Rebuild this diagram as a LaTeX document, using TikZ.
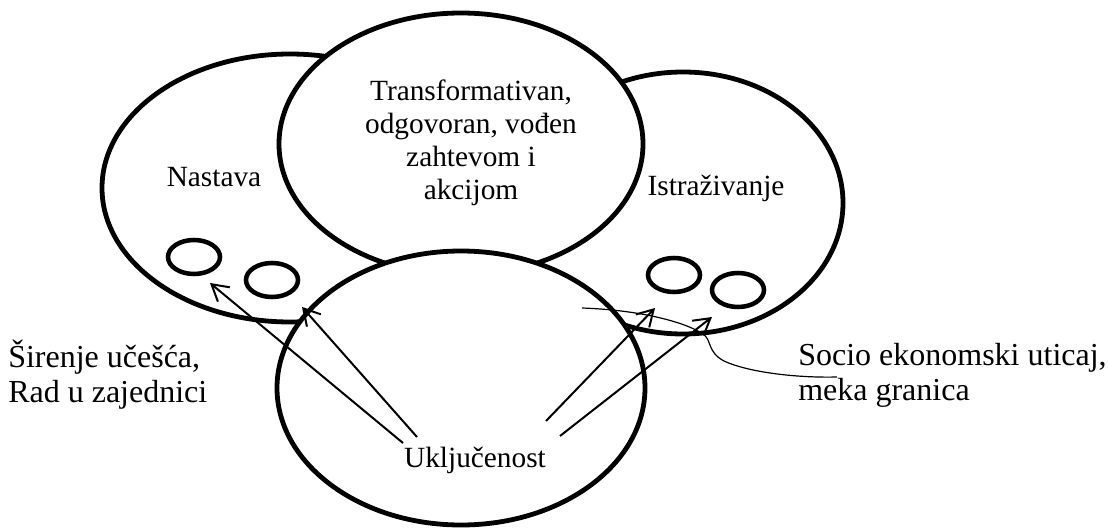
\documentclass[tikz,border=0pt]{standalone}
\usepackage{fontspec}
\setmainfont{Liberation Serif}
\usetikzlibrary{arrows.meta}

\begin{document}
\begin{tikzpicture}[x=0.75pt,y=-0.75pt,
    bigring/.style={
      % The big rings hide what lies under them
      line width=3.6pt,draw=black,fill=white
      },
    smallring/.style={line width=3.4pt,draw=black},
    ringtext/.style={inner sep=0pt,align=center,
      font=\fontsize{22pt}{24.75pt}\selectfont},
    sidetext/.style={inner sep=0pt,align=left,anchor=west,
      font=\fontsize{24pt}{26.25pt}\selectfont},
    pointer/.style={-{Straight Barb[length=12pt,width=14pt]},line width=1.5pt}]
  \useasboundingbox (0,0) rectangle (1108,528);
  % rings
  \draw [bigring] (290,188) ellipse [x radius=188, y radius=134];
  \draw [bigring] (683,203) ellipse [x radius=160, y radius=131];
  \draw [bigring] (461,144) ellipse [x radius=182, y radius=131];
  \draw [bigring] (461,388) ellipse [x radius=184, y radius=137];
  \draw [smallring] (194,257) ellipse [x radius=26, y radius=17];
  \draw [smallring] (272,280) ellipse [x radius=26, y radius=17];
  \draw [smallring] (674,275) ellipse [x radius=26, y radius=17];
  \draw [smallring] (738,290) ellipse [x radius=26, y radius=17];
  % texts
  \node (nastava) [ringtext] at (214,177) {Nastava};
  \node (istrazivanje) [ringtext] at (716,188) {Istraživanje};
  \node (transformativan) [ringtext] at (471,143)
    {Transformativan,\\odgovoran, vođen\\zahtevom i\\akcijom};
  \node (ukljucenost) [ringtext] at (475,460) {Uključenost};
  \node (sirenje) [sidetext] at (8,375) {Širenje učešća,\\Rad u zajednici};
  \node (socio) [sidetext] at (798,375) {Socio ekonomski uticaj,\\meka granica};
  % arrows
  \coordinate (tail-1) at (403,443);
  \coordinate (tail-2) at (417,437);
  \coordinate (tail-3) at (546,421);
  \coordinate (tail-4) at (560,436);
  \coordinate (tip-1) at (210,283);
  \coordinate (tip-2) at (302,307);
  \coordinate (tip-3) at (655,308);
  \coordinate (tip-4) at (712,317);
  \draw [pointer] (tail-1) -- (tip-1);
  \draw [pointer] (tail-2) -- (tip-2);
  \draw [pointer] (tail-3) -- (tip-3);
  \draw [pointer] (tail-4) -- (tip-4);
  \coordinate (lead) at (582,308);
  \draw [line width=0.9pt] (lead) .. controls (640,310) and (685,322) .. (703,334)
    .. controls (712,340) and (707,352) .. (724,361)
    .. controls (750,373) and (800,378) .. ([shift={(39,2)}]socio.west);
\end{tikzpicture}
\end{document}
